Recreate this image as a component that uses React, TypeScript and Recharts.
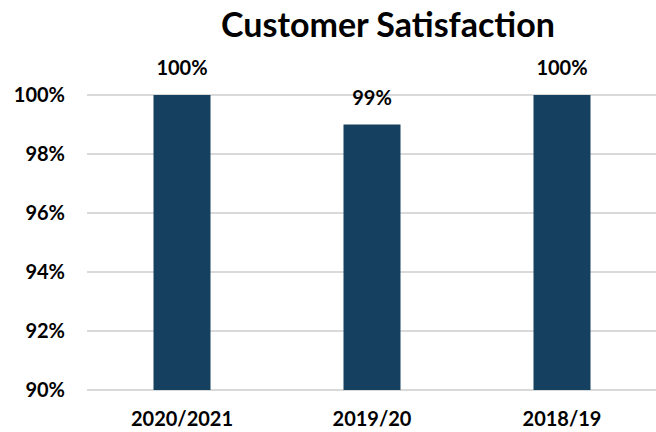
import React from "react";
import { BarChart, Bar, XAxis, YAxis, CartesianGrid, LabelList } from "recharts";

const categories = ["2020/2021", "2019/20", "2018/19"];
const satisfaction = [1.0, 0.99, 1.0];
const yTicks = [0.9, 0.92, 0.94, 0.96, 0.98, 1.0];
const title = "Customer Satisfaction";

const data = categories.map((c, i) => ({ name: c, value: satisfaction[i] }));
const pct = (v: number) => `${Math.round(v * 100)}%`;
const FONT = "Lato, 'Open Sans', sans-serif";
const tickStyle = { fill: "#000", fontSize: 20, fontWeight: 700, fontFamily: FONT };

export default function App() {
  return (
    <div style={{ position: "absolute", left: 0, top: 0, width: 656, height: 432, background: "#fff", fontFamily: FONT }}>
      <div
        style={{
          position: "absolute",
          left: 0,
          top: 5,
          width: 776,
          textAlign: "center",
          fontSize: 34,
          fontWeight: 700,
          color: "#000",
          lineHeight: "38px",
        }}
      >
        {title}
      </div>
      <div style={{ position: "absolute", left: 0, top: 0 }}>
        <BarChart
          width={656}
          height={432}
          data={data}
          margin={{ top: 95, right: -1, bottom: 0, left: 0 }}
          barCategoryGap="35%"
        >
          <CartesianGrid horizontal vertical={false} stroke="#D9D9D9" strokeWidth={2} />
          <XAxis
            dataKey="name"
            axisLine={false}
            tickLine={false}
            tickSize={0}
            tickMargin={22}
            height={42}
            tick={tickStyle}
          />
          <YAxis
            domain={[0.9, 1.0]}
            ticks={yTicks}
            tickFormatter={pct}
            axisLine={false}
            tickLine={false}
            tickSize={0}
            tickMargin={22}
            width={87}
            tick={tickStyle}
          />
          <Bar dataKey="value" fill="#16405F" isAnimationActive={false}>
            <LabelList
              dataKey="value"
              position="top"
              offset={20}
              formatter={(v: any) => pct(Number(v))}
              style={tickStyle}
            />
          </Bar>
        </BarChart>
      </div>
    </div>
  );
}
